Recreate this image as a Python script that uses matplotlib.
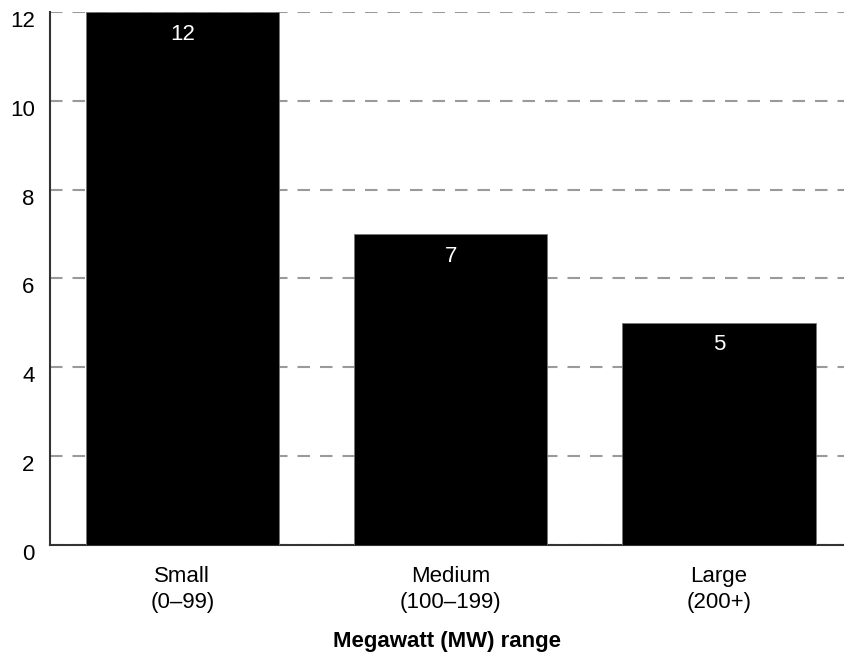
import matplotlib.pyplot as plt
from matplotlib.transforms import ScaledTranslation

categories = ['Small\n(0\u201399)', 'Medium\n(100\u2013199)', 'Large\n(200+)']
counts = [12, 7, 5]

plt.rcParams['font.family'] = ['Liberation Sans', 'DejaVu Sans']

fig = plt.figure(figsize=(8.44, 6.55), dpi=100)
ax = fig.add_axes([0.0592, 0.168, 0.9408, 0.8137])

x = range(len(categories))
bars = ax.bar(x, counts, width=0.72, color='black', edgecolor='#777777', linewidth=0.6, zorder=3)

for b, v in zip(bars, counts):
    ax.text(b.get_x() + b.get_width() / 2, v - 0.26, str(v), ha='center', va='top',
            color='white', fontsize=16, zorder=4)

ax.set_xlim(-0.493, 2.466)
ax.set_ylim(0, 12)
ax.set_yticks(range(0, 13, 2))
ax.set_xticks(list(x))
ax.set_xticklabels(categories, fontsize=16, linespacing=1.35)
ax.tick_params(axis='y', labelsize=16, length=0, pad=11)
ax.tick_params(axis='x', length=0, pad=15)

# y labels sit a little below their gridlines in the original
shift = ScaledTranslation(0, -7 / 100, fig.dpi_scale_trans)
for lbl in ax.get_yticklabels():
    lbl.set_transform(lbl.get_transform() + shift)

ax.yaxis.grid(True, color='#9a9a9a', linestyle=(0, (6, 4.8)), linewidth=1.5, zorder=0)
ax.set_axisbelow(True)

for s in ['top', 'right']:
    ax.spines[s].set_visible(False)
for s in ['left', 'bottom']:
    ax.spines[s].set_color('#333333')
    ax.spines[s].set_linewidth(1.5)

ax.set_xlabel('Megawatt (MW) range', fontsize=16, fontweight='bold', labelpad=13)

fig.savefig('out.png', dpi=100)
